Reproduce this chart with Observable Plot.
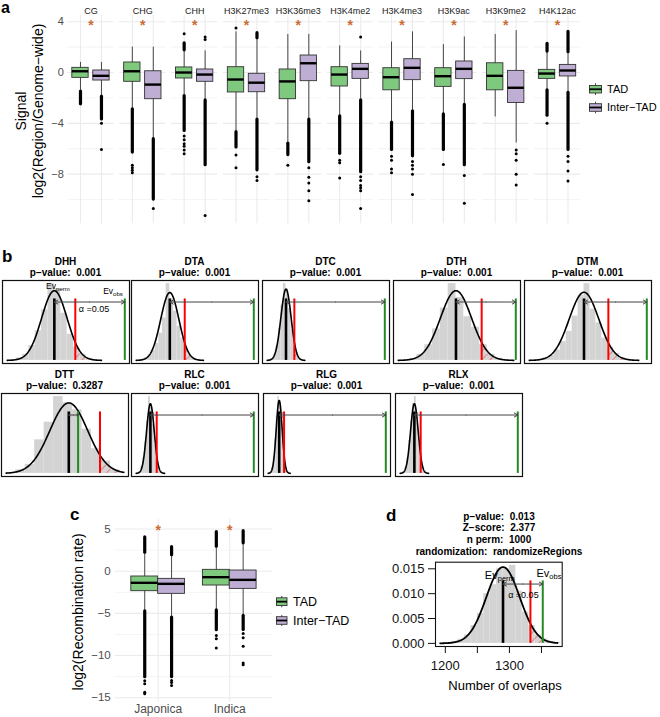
<!DOCTYPE html>
<html><head><meta charset="utf-8">
<script src="https://cdn.jsdelivr.net/npm/d3@7"></script>
<script src="https://cdn.jsdelivr.net/npm/@observablehq/plot@0.6"></script>
<style>
body{margin:0;background:#fff;}
#fig{position:relative;width:660px;height:717px;overflow:hidden;background:#fff;font-family:"Liberation Sans",Arial,Helvetica,sans-serif;}
</style></head>
<body>
<svg width="0" height="0" style="position:absolute"><defs>
<pattern id="hatchRed" patternUnits="userSpaceOnUse" width="6" height="6" patternTransform="rotate(45)">
<line x1="0" y1="0" x2="0" y2="6" stroke="#ff0000" stroke-width="0.8"/></pattern></defs></svg>
<div id="fig"></div>
<script>
// ================= DATA =================
// ---- panel a: signal log2(Region/Genome-wide) ----
const marksA = ["CG","CHG","CHH","H3K27me3","H3K36me3","H3K4me2","H3K4me3","H3K9ac","H3K9me2","H4K12ac"];
const groups = ["TAD","Inter-TAD"];
const tadQ1   = [-0.42,-0.73,-0.47,-1.57,-2.10,-1.10,-1.40,-1.13,-1.40,-0.50];
const tadMed  = [ 0.10, 0.10, 0.00,-0.55,-0.70,-0.16,-0.37,-0.29,-0.26,-0.08];
const tadQ3   = [ 0.37, 0.79, 0.40, 0.42, 0.24, 0.42, 0.34, 0.34, 0.73, 0.21];
const tadLow  = [-1.40,-2.86,-1.80,-4.60,-5.50,-3.40,-3.90,-3.25,-3.50,-1.36];
const tadHigh = [ 0.80, 2.00, 1.70, 3.20, 3.00, 2.10, 2.40, 2.20, 3.00, 1.60];
const interQ1   = [-0.63,-2.10,-0.73,-1.55,-0.68,-0.50,-0.60,-0.52,-2.40,-0.31];
const interMed  = [-0.26,-0.95,-0.16,-0.80, 0.73, 0.29, 0.37, 0.29,-1.20, 0.16];
const interQ3   = [ 0.16, 0.10, 0.24,-0.10, 1.34, 0.68, 1.05, 0.87, 0.13, 0.60];
const interLow  = [-1.80,-5.20,-2.10,-3.60,-3.65,-2.10,-3.00,-2.50,-5.55,-1.55];
const interHigh = [ 0.80, 2.00, 1.70, 2.60, 3.00, 1.70, 3.20, 2.80, 3.30, 1.50];
// runs of overlapping outliers [from, to]
const tadDense = [[[-2.5,-1.5]],[[-6.3,-2.9]],[[1.75,2.3],[-4.6,-1.85]],[[-5.9,-4.7]],[[-6.5,-5.6]],[[-6.4,-3.45]],[[-6.1,-3.95]],[[-6.1,-3.3]],[],[[1.65,2.25],[-3.4,-1.4]]];
const interDense = [[[-3.7,-1.9]],[[-10.0,-5.25]],[[-7.3,-2.2]],[[2.7,3.1],[-7.7,-3.7]],[[-7.06,-3.7]],[[-7.85,-2.2]],[[-6.6,-3.05]],[[-7.3,-2.55]],[],[[1.6,3.2],[-6.1,-1.6]]];
// isolated outliers
const tadSparse = [[],[-7.3,-7.5,-7.7,-7.9],[3.05,-5.0,-5.3,-5.6,-5.8,-6.1,-6.4],[3.5,-6.5,-7.5],[-7.3],[-6.9,-7.1,-8.3],[-6.6,-6.9,-7.6,-7.9],[-7.25],[],[-4.0]];
const interSparse = [[-4.0,-6.06],[-10.7],[2.8,2.6,-11.26],[-8.2,-8.5],[-7.5,-8.24,-8.7,-9.3,-10.1],[2.8,-8.2,-8.5,-8.9,-9.1,-9.3,-10.7],[-7.0,-7.3,-7.6,-8.0,-9.6],[-8.1,-10.3],[-6.1,-6.4,-6.9,-8.0,-8.85],[-6.6,-7.0,-7.75,-8.55]];
const sigYA = 4.0;
const yTicksA = [-8,-4,0,4];
const yMinorA = [-10,-6,-2,2];

// ---- panel b: permutation tests (z units: perm mean 0, sd 1) ----
const permNames = ["DHH","DTA","DTC","DTH","DTM","DTT","RLC","RLG","RLX"];
const permPValues = ["0.001","0.001","0.001","0.001","0.001","0.3287","0.001","0.001","0.001"];
const permObsZ = [5.53, 9.25, 19.45, 3.83, 4.24, 0.49, 26.95, 35.9, 27.0];
const permRangeLo = [-3.7,-3.7,-3.7,-3.7,-3.7,-3.3,-3.7,-3.7,-3.7];
const permRangeHi = [ 3.7, 3.7, 3.7, 3.7, 3.7, 2.9, 3.7, 3.7, 3.7];
const permHistStart = [-3.5,-3.6,-3.5,-3.5,-3.6,-3.3,-3.5,-3.5,-3.5];
const permHistWidth = [0.5,0.4,0.5,0.5,0.4,0.5,0.5,0.5,0.5];
const permHistDensity = [
 [0.004,0.014,0.035,0.085,0.17,0.29,0.44,0.41,0.27,0.15,0.075,0.035,0.012,0.004],
 [0.002,0.006,0.015,0.032,0.06,0.10,0.16,0.25,0.452,0.36,0.29,0.20,0.13,0.075,0.038,0.016,0.006,0.002],
 [0.003,0.01,0.03,0.08,0.18,0.31,0.43,0.40,0.29,0.17,0.08,0.03,0.01,0.003],
 [0.003,0.01,0.035,0.09,0.18,0.30,0.44,0.36,0.25,0.19,0.09,0.035,0.012,0.003],
 [0.002,0.006,0.014,0.03,0.06,0.11,0.17,0.26,0.38,0.45,0.30,0.22,0.13,0.075,0.04,0.016,0.006,0.002],
 [0.005,0.02,0.05,0.19,0.29,0.435,0.40,0.36,0.25,0.14,0.07,0.02],
 [0.003,0.01,0.04,0.09,0.18,0.30,0.44,0.38,0.28,0.16,0.08,0.03,0.01,0.003],
 [0.002,0.01,0.03,0.09,0.19,0.31,0.42,0.39,0.29,0.17,0.085,0.03,0.01,0.002],
 [0.003,0.01,0.035,0.085,0.19,0.30,0.40,0.44,0.29,0.17,0.08,0.03,0.01,0.003]
];
const alphaZ = 1.645; // one-sided alpha = 0.05

// ---- panel c: log2(Recombination rate) ----
const cultivars = ["Japonica","Indica"];
const cTadQ1 = [-2.37,-1.70], cTadMed = [-1.38,-0.71], cTadQ3 = [-0.63,0.16], cTadLow = [-4.66,-4.58], cTadHigh = [2.10,2.80];
const cInterQ1 = [-2.69,-2.10], cInterMed = [-1.50,-1.03], cInterQ3 = [-0.91,0.08], cInterLow = [-5.45,-5.26], cInterHigh = [1.80,3.20];
const cTadDense = [[[2.2,4.0],[-12.57,-4.75]],[[2.9,4.62],[-7.0,-4.65]]];
const cInterDense = [[[1.9,2.85],[-12.57,-5.5]],[[3.3,4.74],[-6.96,-5.3]]];
const cTadSparse = [[-13.0,-13.36,-14.35,-14.54],[-7.63,-8.0,-9.1]];
const cInterSparse = [[-12.96,-13.2,-13.56],[-7.4,-7.9,-8.9,-10.9,-11.1]];
const sigYC = 5.22;
const yTicksC = [-15,-10,-5,0,5];
const yMinorC = [-12.5,-7.5,-2.5,2.5];

// ---- panel d: permutation test, number of overlaps ----
const dTitle = ["p\u2212value:  0.013","Z\u2212score:  2.377","n perm:  1000","randomization:  randomizeRegions"];
const dPermMean = 1290, dPermSd = 26, dObs = 1352;
const dRange = [1192, 1375];
const dHistStart = 1190, dHistWidth = 10;
const dHistDensity = [0.0001,0.0002,0.0004,0.0008,0.0017,0.0036,0.0060,0.0100,0.0118,0.0150,0.0150,0.0157,0.0105,0.0063,0.0036,0.0017,0.0009,0.0004,0.0002];
const dXTicks = [1200,1250,1300,1350];
const dYTicks = [0,0.005,0.010,0.015];

// ================= DRAWING =================
const FONT = '"Liberation Sans", Arial, Helvetica, sans-serif';
const GREEN = "#7fc97f", PURPLE = "#beaed4", STAR = "#cd6b31";
const fig = document.getElementById("fig");
const minus = d => d < 0 ? "\u2212" + (-d) : String(d);
function place(el, left, top) {
  el.style.position = "absolute"; el.style.left = left + "px"; el.style.top = top + "px";
  fig.appendChild(el);
}
const baseStyle = {fontFamily: FONT, background: "transparent", overflow: "visible"};

// ---------- panel a ----------
const HW = 0.39;
const boxA = marksA.flatMap((m, i) => [
  {mark: m, grp: "TAD", gx: 1, q1: tadQ1[i], med: tadMed[i], q3: tadQ3[i], lo: tadLow[i], hi: tadHigh[i]},
  {mark: m, grp: "Inter-TAD", gx: 2, q1: interQ1[i], med: interMed[i], q3: interQ3[i], lo: interLow[i], hi: interHigh[i]}
]);
const denseA = marksA.flatMap((m, i) => [
  ...tadDense[i].map(([a, b]) => ({mark: m, gx: 1, a, b})),
  ...interDense[i].map(([a, b]) => ({mark: m, gx: 2, a, b}))
]);
const sparseA = marksA.flatMap((m, i) => [
  ...tadSparse[i].map(v => ({mark: m, gx: 1, v})),
  ...interSparse[i].map(v => ({mark: m, gx: 2, v}))
]);
const plotA = Plot.plot({
  width: 585, height: 230,
  marginLeft: 67.4, marginRight: 4.9, marginTop: 15, marginBottom: 6.7,
  style: baseStyle,
  fx: {domain: marksA, paddingInner: 0.11, paddingOuter: 0, round: false},
  x: {domain: [0.4, 2.6], axis: null},
  y: {domain: [-11.91, 4.49]},
  color: {domain: groups, range: [GREEN, PURPLE]},
  marks: [
    Plot.ruleY(yMinorA, {stroke: "#ededed", strokeWidth: 0.6}),
    Plot.ruleY(yTicksA, {stroke: "#ebebeb", strokeWidth: 1.1}),
    Plot.ruleX([1, 2], {stroke: "#ebebeb", strokeWidth: 1.1}),
    Plot.ruleX(boxA, {fx: "mark", x: "gx", y1: "lo", y2: "hi", stroke: "#333", strokeWidth: 0.9}),
    Plot.ruleX(denseA, {fx: "mark", x: "gx", y1: "a", y2: "b", stroke: "black", strokeWidth: 3.2, strokeLinecap: "round"}),
    Plot.dot(sparseA, {fx: "mark", x: "gx", y: "v", r: 1.5, fill: "black"}),
    Plot.rect(boxA, {fx: "mark", x1: d => d.gx - HW, x2: d => d.gx + HW, y1: "q1", y2: "q3", fill: "grp", stroke: "#333", strokeWidth: 0.9}),
    Plot.ruleY(boxA, {fx: "mark", x1: d => d.gx - HW, x2: d => d.gx + HW, y: "med", stroke: "black", strokeWidth: 2.4}),
    Plot.text(marksA, {fx: d => d, x: () => 1.5, y: () => sigYA, text: () => "*", fill: STAR, fontSize: 14, fontWeight: "bold", dy: 3.8}),
    Plot.axisY({ticks: yTicksA, tickFormat: minus, tickSize: 0, tickPadding: 4, fontSize: 11, color: "#4d4d4d", label: null}),
    Plot.axisFx({anchor: "top", label: null, tickSize: 0, tickPadding: 2, fontSize: 9, color: "#1a1a1a"})
  ]
});
place(plotA, 0, 0);

// ---------- permutation plot helper (b and d) ----------
function permPlot(o) {
  const {mean, sd, obs, lo, hi, hStart, hWidth, hist} = o;
  const bins = hist.map((d, i) => ({x1: hStart + i * hWidth, x2: hStart + (i + 1) * hWidth, d}));
  const peak = 1 / (sd * Math.sqrt(2 * Math.PI));
  const ymax = Math.max(d3.max(hist), peak);
  const xl = Math.min(lo, obs), xh = Math.max(hi, obs), pad = 0.04 * (xh - xl);
  const alpha = mean + alphaZ * sd;
  // fitted normal density of the permuted values
  const curve = d3.range(0, 241).map(i => {
    const x = lo + (hi - lo) * i / 240, z = (x - mean) / sd;
    return {x, y: peak * Math.exp(-z * z / 2)};
  });
  const tail = curve.filter(p => p.x >= alpha);
  const lineTop = 0.8 * ymax, arrowY = 0.76 * ymax;
  const mid = (mean + obs) / 2;
  const marks = [
    Plot.rect(bins, {x1: "x1", x2: "x2", y1: () => 0, y2: "d", fill: "#d3d3d3"}),
    Plot.areaY(tail, {x: "x", y: "y", fill: "url(#hatchRed)"}),
    Plot.line(curve, {x: "x", y: "y", stroke: "black", strokeWidth: o.curveWidth || 1.6}),
    Plot.ruleX([mean], {y1: () => 0, y2: () => lineTop, stroke: "black", strokeWidth: 2.6}),
    Plot.ruleX([alpha], {y1: () => 0, y2: () => lineTop, stroke: "#ff0000", strokeWidth: 2}),
    Plot.ruleX([obs], {y1: () => 0, y2: () => lineTop, stroke: "#228b22", strokeWidth: 2}),
    Plot.arrow([{x1: mid, x2: obs}, {x1: mid, x2: mean}], {x1: "x1", x2: "x2", y1: () => arrowY, y2: () => arrowY,
      stroke: "#444", strokeWidth: 1, headLength: 6, headAngle: 60})
  ];
  if (o.ann) {
    const a = o.ann;
    marks.push(
      Plot.text([mean], {x: d => d, y: () => a.permY * ymax, text: () => "Ev", textAnchor: "end", dx: a.permDx, fontSize: a.size}),
      Plot.text([mean], {x: d => d, y: () => a.permY * ymax, text: () => "perm", textAnchor: "start", dx: a.permDx, dy: 3, fontSize: a.sub}),
      Plot.text([obs], {x: d => d, y: () => a.obsY * ymax, text: () => "Ev", textAnchor: "end", dx: a.obsDx, fontSize: a.size}),
      Plot.text([obs], {x: d => d, y: () => a.obsY * ymax, text: () => "obs", textAnchor: "start", dx: a.obsDx, dy: 3, fontSize: a.sub}),
      Plot.text([mid], {x: d => d, y: () => a.alphaY * ymax, text: () => "\u03b1 =0.05", textAnchor: "middle", dx: a.alphaDx, fontSize: 9})
    );
  }
  if (o.axes) marks.push(...o.axes);
  marks.push(Plot.frame({stroke: "#111", strokeWidth: o.frameWidth || 1.2}));
  return Plot.plot({
    width: o.width, height: o.height,
    marginLeft: o.ml, marginRight: o.mr, marginTop: o.mt, marginBottom: o.mb,
    style: baseStyle,
    x: {domain: [xl - pad, xh + pad], axis: null},
    y: {domain: [-0.04 * ymax, 1.04 * ymax], axis: null},
    marks
  });
}

// ---------- panel b ----------
const bLefts = [1, 130, 261, 392, 523, 0, 130, 262, 394];
const bTops = [279, 279, 279, 279, 279, 392, 392, 392, 392];
permNames.forEach((name, i) => {
  const el = permPlot({
    mean: 0, sd: 1, obs: permObsZ[i], lo: permRangeLo[i], hi: permRangeHi[i],
    hStart: permHistStart[i], hWidth: permHistWidth[i], hist: permHistDensity[i],
    width: 129, height: 85, ml: 1, mr: 1, mt: 1, mb: 1,
    ann: i === 0 ? {permY: 0.97, permDx: 1.7, obsY: 0.9, obsDx: -11.7, alphaY: 0.67, alphaDx: 4.5, size: 8.5, sub: 6} : null
  });
  place(el, bLefts[i], bTops[i]);
});

// ---------- panel c ----------
const DODGE = 0.1875;
const boxC = cultivars.flatMap((c, i) => [
  {cx: i + 1, gx: i + 1 - DODGE, grp: "TAD", q1: cTadQ1[i], med: cTadMed[i], q3: cTadQ3[i], lo: cTadLow[i], hi: cTadHigh[i]},
  {cx: i + 1, gx: i + 1 + DODGE, grp: "Inter-TAD", q1: cInterQ1[i], med: cInterMed[i], q3: cInterQ3[i], lo: cInterLow[i], hi: cInterHigh[i]}
]);
const denseC = cultivars.flatMap((c, i) => [
  ...cTadDense[i].map(([a, b]) => ({gx: i + 1 - DODGE, a, b})),
  ...cInterDense[i].map(([a, b]) => ({gx: i + 1 + DODGE, a, b}))
]);
const sparseC = cultivars.flatMap((c, i) => [
  ...cTadSparse[i].map(v => ({gx: i + 1 - DODGE, v})),
  ...cInterSparse[i].map(v => ({gx: i + 1 + DODGE, v}))
]);
const plotC = Plot.plot({
  width: 275, height: 207,
  marginLeft: 114.7, marginRight: 2.8, marginTop: 8.4, marginBottom: 15.6,
  style: baseStyle,
  x: {domain: [0.4, 2.6]},
  y: {domain: [-15.5, 6.2]},
  color: {domain: groups, range: [GREEN, PURPLE]},
  marks: [
    Plot.ruleY(yMinorC, {stroke: "#ededed", strokeWidth: 0.6}),
    Plot.ruleY(yTicksC, {stroke: "#ebebeb", strokeWidth: 1.1}),
    Plot.ruleX([1, 2], {stroke: "#ebebeb", strokeWidth: 1.1}),
    Plot.ruleX(boxC, {x: "gx", y1: "lo", y2: "hi", stroke: "#333", strokeWidth: 0.9}),
    Plot.ruleX(denseC, {x: "gx", y1: "a", y2: "b", stroke: "black", strokeWidth: 3.2, strokeLinecap: "round"}),
    Plot.dot(sparseC, {x: "gx", y: "v", r: 1.5, fill: "black"}),
    Plot.rect(boxC, {x1: d => d.gx - DODGE, x2: d => d.gx + DODGE, y1: "q1", y2: "q3", fill: "grp", stroke: "#333", strokeWidth: 0.9}),
    Plot.ruleY(boxC, {x1: d => d.gx - DODGE, x2: d => d.gx + DODGE, y: "med", stroke: "black", strokeWidth: 2.4}),
    Plot.text([1, 2], {x: d => d, y: () => sigYC, text: () => "*", fill: STAR, fontSize: 14, fontWeight: "bold", dy: 3.8}),
    Plot.axisY({ticks: yTicksC, tickFormat: minus, tickSize: 0, tickPadding: 4.5, fontSize: 11.5, color: "#4d4d4d", label: null}),
    Plot.axisX({ticks: [1, 2], tickFormat: d => cultivars[d - 1], tickSize: 0, tickPadding: 3, fontSize: 12, color: "#4d4d4d", label: null})
  ]
});
place(plotC, 0, 510);

// ---------- panel d ----------
const plotD = permPlot({
  mean: dPermMean, sd: dPermSd, obs: dObs, lo: dRange[0], hi: dRange[1],
  hStart: dHistStart, hWidth: dHistWidth, hist: dHistDensity,
  width: 220, height: 145, ml: 55, mr: 38.3, mt: 6.7, mb: 54, frameWidth: 1.1, curveWidth: 1.8,
  ann: {permY: 0.87, permDx: -5.3, obsY: 0.89, obsDx: 6.6, alphaY: 0.615, alphaDx: 0.5, size: 11, sub: 7.5},
  axes: [
    Plot.axisY({ticks: dYTicks, tickFormat: d3.format(".3f"), tickSize: 7, tickPadding: 4, fontSize: 13, color: "#111", label: null}),
    Plot.axisX({ticks: dXTicks, tickFormat: d => d % 100 === 0 ? String(d) : "", tickSize: 7, tickPadding: 7, fontSize: 13, color: "#111", label: null})
  ]
});
place(plotD, 380, 555);

// ---------- text, titles and legends ----------
const ov = d3.select(fig).append("svg")
  .attr("width", 660).attr("height", 717)
  .style("position", "absolute").style("left", "0px").style("top", "0px")
  .style("font-family", FONT).style("pointer-events", "none");
function label(x, y, s, {size = 10, weight = "normal", anchor = "start", fill = "#000", rotate = 0, dy = "0.35em"} = {}) {
  const t = ov.append("text").attr("x", x).attr("y", y).attr("dy", dy)
    .attr("text-anchor", anchor).attr("font-size", size).attr("font-weight", weight)
    .attr("fill", fill).style("white-space", "pre").text(s);
  if (rotate) t.attr("transform", `rotate(${rotate},${x},${y})`);
  return t;
}
// panel letters
label(1, 13, "a", {size: 16, weight: "bold", dy: 0});
label(2, 262, "b", {size: 17, weight: "bold", dy: 0});
label(70, 520, "c", {size: 17, weight: "bold", dy: 0});
label(386, 521, "d", {size: 17, weight: "bold", dy: 0});
// axis titles
label(21.5, 111, "Signal", {size: 14, anchor: "middle", rotate: -90});
label(38.5, 111, "log2(Region/Genome\u2212wide)", {size: 14, anchor: "middle", rotate: -90});
label(78.3, 612, "log2(Recombination rate)", {size: 14, anchor: "middle", rotate: -90});
label(505, 685, "Number of overlaps", {size: 13, anchor: "middle"});
// b titles
permNames.forEach((name, i) => {
  const cx = bLefts[i] + 64.5, top = bTops[i];
  label(cx, top - 18, name, {size: 10, weight: "bold", anchor: "middle"});
  label(cx, top - 7, "p\u2212value:  " + permPValues[i], {size: 10, weight: "bold", anchor: "middle"});
});
// d titles
dTitle.forEach((s, i) => label(499, [516, 527.3, 539, 551][i], s, {size: 10, weight: "bold", anchor: "middle"}));
// legends
function key(x, w, yTop, yBot, bTop, bBot, fill) {
  const cx = x + w / 2;
  ov.append("line").attr("x1", cx).attr("x2", cx).attr("y1", yTop).attr("y2", yBot).attr("stroke", "#333").attr("stroke-width", 0.9);
  ov.append("rect").attr("x", x).attr("y", bTop).attr("width", w).attr("height", bBot - bTop)
    .attr("fill", fill).attr("stroke", "#333").attr("stroke-width", 0.9);
  ov.append("line").attr("x1", x).attr("x2", x + w).attr("y1", (bTop + bBot) / 2).attr("y2", (bTop + bBot) / 2)
    .attr("stroke", "black").attr("stroke-width", 1.8);
}
key(589.5, 12, 83.3, 95, 85.5, 93, GREEN);
key(589.5, 12, 101.7, 113.3, 103.7, 111.3, PURPLE);
label(607, 89.3, "TAD", {size: 11});
label(607, 107.5, "Inter\u2212TAD", {size: 11});
key(276.5, 10.5, 596, 607.3, 597.8, 605.5, GREEN);
key(276.5, 10.5, 615, 626, 616.7, 624.3, PURPLE);
label(293, 601.5, "TAD", {size: 12.5});
label(293, 620.3, "Inter\u2212TAD", {size: 12.5});
</script>
</body></html>
